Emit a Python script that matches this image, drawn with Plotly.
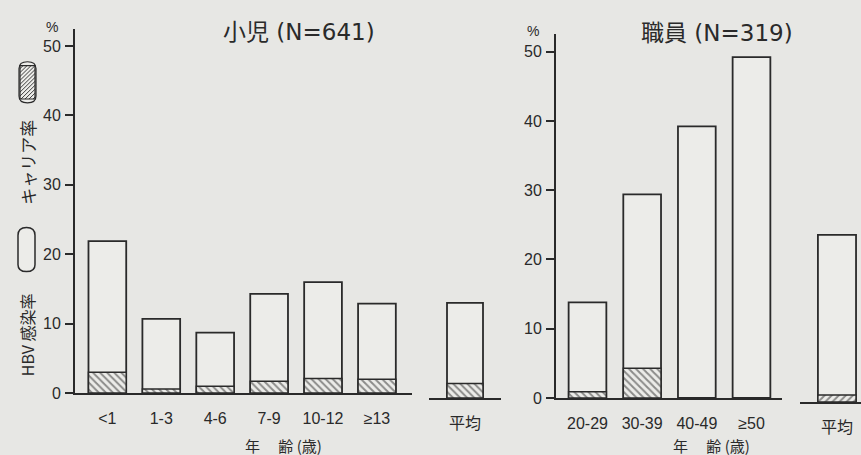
import plotly.graph_objects as go

# ---------------- data ----------------
child_groups = ["<1", "1-3", "4-6", "7-9", "10-12", "≥13"]
child_hbv = [21.9, 10.7, 8.7, 14.3, 16.0, 12.9]
child_carrier = [3.0, 0.6, 1.0, 1.7, 2.1, 2.0]
child_avg_label = ["平均"]
child_avg_hbv = [13.7]
child_avg_carrier = [2.1]

staff_groups = ["20-29", "30-39", "40-49", "≥50"]
staff_hbv = [13.8, 29.4, 39.2, 49.2]
staff_carrier = [0.9, 4.3, 0.0, 0.0]
staff_avg_label = ["平均"]
staff_avg_hbv = [24.1]
staff_avg_carrier = [1.0]

y_ticks = [0, 10, 20, 30, 40, 50]

# ---------------- style ----------------
W, H = 861, 455
BG = "#e7e7e4"
BARFILL = "#ecece9"
INK = "#2a2a2a"
TICKFONT = dict(family="Liberation Sans, Arial, Noto Sans CJK JP, sans-serif", size=16, color=INK)
CJK = "DejaVu Sans, Noto Sans CJK JP, sans-serif"


def X(px):
    return px / W


def Y(py):
    return 1 - py / H


fig = go.Figure()


def add_pair(cats, hbv, car, xa, ya, width, hatch="\\"):
    fig.add_trace(go.Bar(
        x=cats, y=hbv, xaxis=xa, yaxis=ya, width=width,
        marker=dict(color=BARFILL, line=dict(color=INK, width=1.8)),
        showlegend=False, hoverinfo="x+y"))
    fig.add_trace(go.Bar(
        x=cats, y=car, xaxis=xa, yaxis=ya, width=width,
        marker=dict(color=BARFILL, line=dict(color=INK, width=1.5),
                    pattern=dict(shape=hatch, fgcolor=INK, bgcolor=BARFILL,
                                 size=5, solidity=0.4)),
        showlegend=False, hoverinfo="x+y"))


add_pair(child_groups, child_hbv, child_carrier, "x", "y", 0.7)
add_pair(child_avg_label, child_avg_hbv, child_avg_carrier, "x2", "y3", 0.75)
add_pair(staff_groups, staff_hbv, staff_carrier, "x3", "y2", 0.69)
add_pair(staff_avg_label, staff_avg_hbv, staff_avg_carrier, "x4", "y4", 1.0, hatch="/")

xcommon = dict(type="category", showline=True, linewidth=2, linecolor=INK, ticks="",
               showgrid=False, zeroline=False, tickfont=TICKFONT,
               ticklabelstandoff=10, ticklabeloverflow="allow", fixedrange=True)
ycommon = dict(showline=True, linewidth=2, linecolor=INK, ticks="outside",
               ticklen=8, tickwidth=1.5, tickcolor=INK, tickvals=y_ticks,
               showgrid=False, zeroline=False, tickfont=TICKFONT,
               ticklabelstandoff=1, fixedrange=True)

fig.update_layout(
    width=W, height=H,
    margin=dict(l=0, r=0, t=0, b=0),
    paper_bgcolor=BG, plot_bgcolor=BG,
    barmode="overlay",
    xaxis=dict(domain=[X(75), X(412)], anchor="y", range=[-0.6, 5.65], **xcommon),
    yaxis=dict(domain=[Y(401), Y(30)], anchor="x", range=[0, 52.4], **ycommon),
    xaxis2=dict(domain=[X(429), X(501)], anchor="y3", range=[-0.75, 0.75], **xcommon),
    yaxis3=dict(domain=[Y(406), Y(35)], anchor="x2", range=[0, 52.4], visible=False),
    xaxis3=dict(domain=[X(556), X(782)], anchor="y2", range=[-0.576, 3.558], **xcommon),
    yaxis2=dict(domain=[Y(406), Y(35)], anchor="x3", range=[0, 52.5], **ycommon),
    xaxis4=dict(domain=[X(800), 1.0], anchor="y4", range=[-0.97, 0.63], **xcommon),
    yaxis4=dict(domain=[Y(410), Y(39)], anchor="x4", range=[0, 52.5], visible=False),
)

ann = []


def text(px, py, s, size, angle=0, family=CJK, yanchor="middle"):
    ann.append(dict(x=X(px), y=Y(py), xref="paper", yref="paper", text=s,
                    showarrow=False, textangle=angle, xanchor="center",
                    yanchor=yanchor, font=dict(family=family, size=size, color=INK)))


text(299, 33, "小児 (N=641)", 23)
text(717, 34, "職員 (N=319)", 23)
text(52, 28, "%", 14, family="Liberation Sans, sans-serif")
text(533, 32, "%", 14, family="Liberation Sans, sans-serif")
text(283, 454, "年　 齢 (歳)", 15, family="Noto Sans CJK JP, sans-serif")
text(711, 454, "年　 齢 (歳)", 15, family="Noto Sans CJK JP, sans-serif")
text(28, 166, "キャリア率", 17, angle=-90, family="Noto Sans CJK JP, sans-serif")
text(27, 342, "HBV 感染率", 16, angle=-90, family="Noto Sans CJK JP, sans-serif")
fig.update_layout(annotations=ann)


def path(points_cmds):
    out = []
    for tok in points_cmds:
        if isinstance(tok, str):
            out.append(tok)
        else:
            out.append(f"{X(tok[0]):.5f},{Y(tok[1]):.5f}")
    return " ".join(out)


shapes = []
# empty legend capsule
shapes.append(dict(type="path", xref="paper", yref="paper",
                   path=path(["M", (18, 240), "L", (18, 270), "Q", (18, 277), (26.5, 277),
                              "Q", (35, 277), (35, 270), "L", (35, 240), "Q", (35, 232),
                              (26.5, 232), "Q", (18, 232), (18, 240), "Z"]),
                   line=dict(color=INK, width=1.5), fillcolor=BARFILL))
# hatched legend capsule
shapes.append(dict(type="path", xref="paper", yref="paper",
                   path=path(["M", (19, 70), "L", (19, 98), "Q", (19, 105), (27.5, 105),
                              "Q", (36, 105), (36, 98), "L", (36, 70), "Q", (36, 63),
                              (27.5, 63), "Q", (19, 63), (19, 70), "Z"]),
                   line=dict(color=INK, width=1.2), fillcolor=BARFILL))
shapes.append(dict(type="rect", xref="paper", yref="paper",
                   x0=X(20), x1=X(35), y0=Y(101), y1=Y(67),
                   line=dict(color=INK, width=1.2), fillcolor="rgba(0,0,0,0)"))
x0, x1, y0, y1 = 20, 35, 67, 101
c = x0 + y0 + 3
while c < x1 + y1:
    xa = max(x0, c - y1)
    xb = min(x1, c - y0)
    if xb > xa:
        shapes.append(dict(type="line", xref="paper", yref="paper",
                           x0=X(xa), y0=Y(c - xa), x1=X(xb), y1=Y(c - xb),
                           line=dict(color=INK, width=0.9)))
    c += 4
fig.update_layout(shapes=shapes)

fig.write_html(
    "out.html",
    config={"displayModeBar": False},
    post_script="document.body.style.margin='0px';"
                "document.body.style.background='" + BG + "';",
)
